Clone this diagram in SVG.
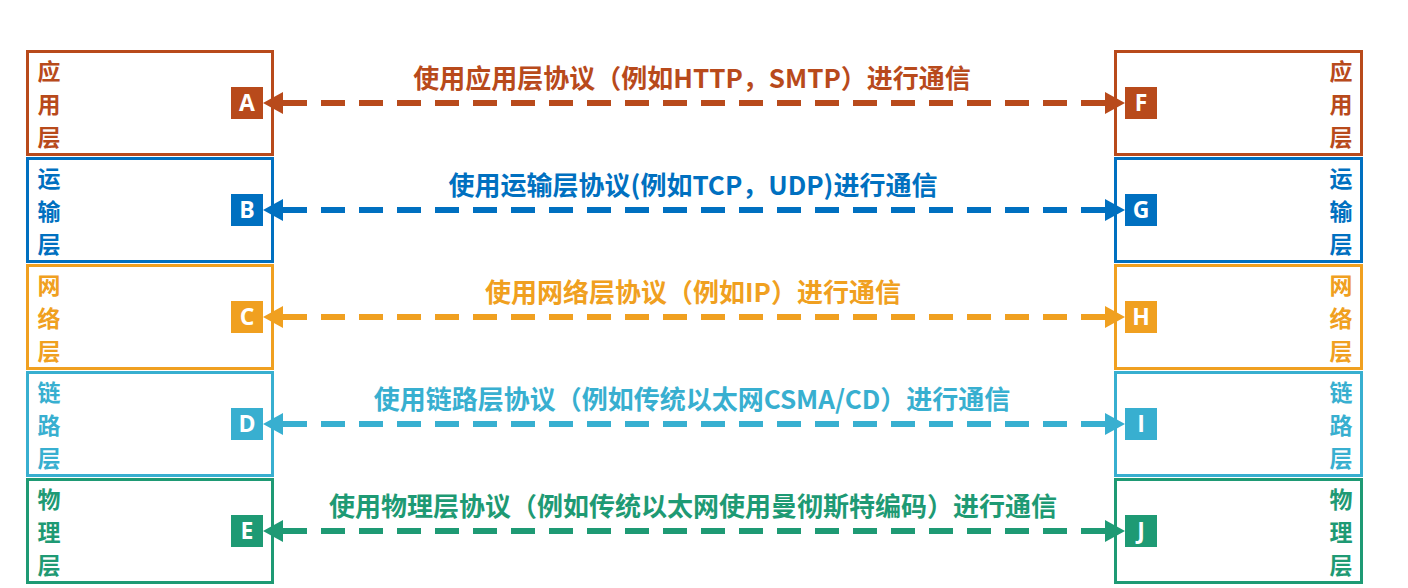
<svg xmlns="http://www.w3.org/2000/svg" width="1408" height="588" viewBox="0 0 1408 588">
<style>
.box{fill:#fff;stroke-width:3}
.lbl{font-family:"Noto Sans CJK SC","Noto Sans",sans-serif;font-weight:bold;font-size:23px;text-anchor:middle}
.let{font-family:"Open Sans","Noto Sans",sans-serif;font-weight:bold;font-size:23px;fill:#fff;text-anchor:middle}
.msg{font-family:"Noto Sans CJK SC","Noto Sans",sans-serif;font-weight:bold;font-size:26px;text-anchor:middle}
.dash{stroke-width:6;stroke-dasharray:24 14;fill:none}
.c1{fill:#B84A1B}.s1{stroke:#B84A1B}
.c2{fill:#0070C0}.s2{stroke:#0070C0}
.c3{fill:#F0A020}.s3{stroke:#F0A020}
.c4{fill:#38AFD0}.s4{stroke:#38AFD0}
.c5{fill:#1E9A74}.s5{stroke:#1E9A74}
</style>
<rect width="1408" height="588" fill="#fff"/>
<g id="left-app">
<rect class="box s1" x="27.5" y="51.5" width="245" height="103"/>
<text class="lbl c1" x="49" y="80">应</text><text class="lbl c1" x="49" y="113">用</text><text class="lbl c1" x="49" y="146">层</text>
<rect class="c1" x="231" y="87" width="32" height="32"/><text class="let" x="247" y="111">A</text>
</g>
<g id="left-transport">
<rect class="box s2" x="27.5" y="158.5" width="245" height="103"/>
<text class="lbl c2" x="49" y="187">运</text><text class="lbl c2" x="49" y="220">输</text><text class="lbl c2" x="49" y="253">层</text>
<rect class="c2" x="231" y="194" width="32" height="32"/><text class="let" x="247" y="218">B</text>
</g>
<g id="left-network">
<rect class="box s3" x="27.5" y="265.5" width="245" height="103"/>
<text class="lbl c3" x="49" y="294">网</text><text class="lbl c3" x="49" y="327">络</text><text class="lbl c3" x="49" y="360">层</text>
<rect class="c3" x="231" y="301" width="32" height="32"/><text class="let" x="247" y="325">C</text>
</g>
<g id="left-link">
<rect class="box s4" x="27.5" y="372.5" width="245" height="103"/>
<text class="lbl c4" x="49" y="401">链</text><text class="lbl c4" x="49" y="434">路</text><text class="lbl c4" x="49" y="467">层</text>
<rect class="c4" x="231" y="408" width="32" height="32"/><text class="let" x="247" y="432">D</text>
</g>
<g id="left-physical">
<rect class="box s5" x="27.5" y="479.5" width="245" height="103"/>
<text class="lbl c5" x="49" y="508">物</text><text class="lbl c5" x="49" y="541">理</text><text class="lbl c5" x="49" y="574">层</text>
<rect class="c5" x="231" y="515" width="32" height="32"/><text class="let" x="247" y="539">E</text>
</g>
<g id="right-app">
<rect class="box s1" x="1115.5" y="51.5" width="246" height="103"/>
<text class="lbl c1" x="1341" y="80">应</text><text class="lbl c1" x="1341" y="113">用</text><text class="lbl c1" x="1341" y="146">层</text>
<rect class="c1" x="1125" y="87" width="32" height="32"/><text class="let" x="1141" y="111">F</text>
</g>
<g id="right-transport">
<rect class="box s2" x="1115.5" y="158.5" width="246" height="103"/>
<text class="lbl c2" x="1341" y="187">运</text><text class="lbl c2" x="1341" y="220">输</text><text class="lbl c2" x="1341" y="253">层</text>
<rect class="c2" x="1125" y="194" width="32" height="32"/><text class="let" x="1141" y="218">G</text>
</g>
<g id="right-network">
<rect class="box s3" x="1115.5" y="265.5" width="246" height="103"/>
<text class="lbl c3" x="1341" y="294">网</text><text class="lbl c3" x="1341" y="327">络</text><text class="lbl c3" x="1341" y="360">层</text>
<rect class="c3" x="1125" y="301" width="32" height="32"/><text class="let" x="1141" y="325">H</text>
</g>
<g id="right-link">
<rect class="box s4" x="1115.5" y="372.5" width="246" height="103"/>
<text class="lbl c4" x="1341" y="401">链</text><text class="lbl c4" x="1341" y="434">路</text><text class="lbl c4" x="1341" y="467">层</text>
<rect class="c4" x="1125" y="408" width="32" height="32"/><text class="let" x="1141" y="432">I</text>
</g>
<g id="right-physical">
<rect class="box s5" x="1115.5" y="479.5" width="246" height="103"/>
<text class="lbl c5" x="1341" y="508">物</text><text class="lbl c5" x="1341" y="541">理</text><text class="lbl c5" x="1341" y="574">层</text>
<rect class="c5" x="1125" y="515" width="32" height="32"/><text class="let" x="1141" y="539">J</text>
</g>
<g id="connectors">
<line class="dash s1" x1="283" y1="103" x2="1105" y2="103"/>
<polygon class="c1" points="263,103 283,92 283,114"/><polygon class="c1" points="1125,103 1105,92 1105,114"/>
<text class="msg c1" x="692" y="88">使用应用层协议（例如HTTP，SMTP）进行通信</text>
<line class="dash s2" x1="283" y1="210" x2="1105" y2="210"/>
<polygon class="c2" points="263,210 283,199 283,221"/><polygon class="c2" points="1125,210 1105,199 1105,221"/>
<text class="msg c2" x="693" y="195">使用运输层协议(例如TCP，UDP)进行通信</text>
<line class="dash s3" x1="283" y1="317" x2="1105" y2="317"/>
<polygon class="c3" points="263,317 283,306 283,328"/><polygon class="c3" points="1125,317 1105,306 1105,328"/>
<text class="msg c3" x="693" y="302">使用网络层协议（例如IP）进行通信</text>
<line class="dash s4" x1="283" y1="424" x2="1105" y2="424"/>
<polygon class="c4" points="263,424 283,413 283,435"/><polygon class="c4" points="1125,424 1105,413 1105,435"/>
<text class="msg c4" x="692" y="409">使用链路层协议（例如传统以太网CSMA/CD）进行通信</text>
<line class="dash s5" x1="283" y1="531" x2="1105" y2="531"/>
<polygon class="c5" points="263,531 283,520 283,542"/><polygon class="c5" points="1125,531 1105,520 1105,542"/>
<text class="msg c5" x="693" y="516">使用物理层协议（例如传统以太网使用曼彻斯特编码）进行通信</text>
</g>
</svg>
